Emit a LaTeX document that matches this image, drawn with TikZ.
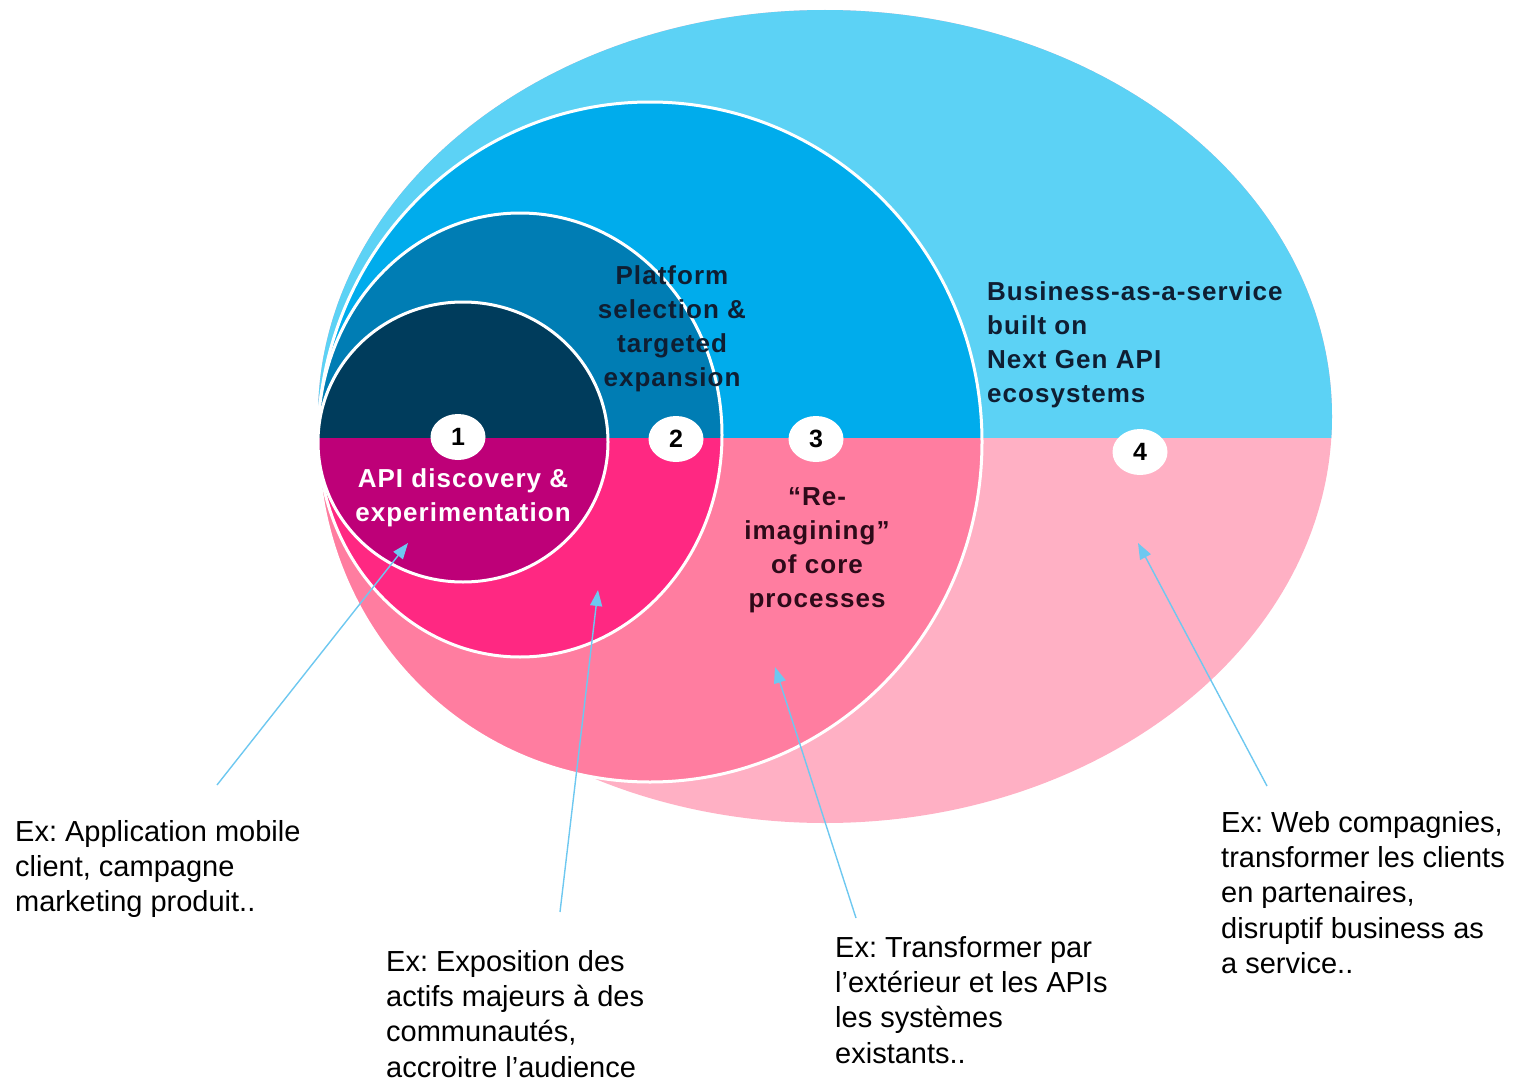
\documentclass[tikz,border=0pt]{standalone}
\usepackage{fontspec}
\setmainfont{Liberation Sans}
\newfontfamily\lblfont[LetterSpace=4]{Liberation Sans}
\usetikzlibrary{arrows.meta,shapes.geometric}
\frenchspacing
\definecolor{cAt}{RGB}{0,60,92}
\definecolor{cAb}{RGB}{190,0,120}
\definecolor{cBt}{RGB}{0,125,180}
\definecolor{cBb}{RGB}{255,40,130}
\definecolor{cCt}{RGB}{0,172,236}
\definecolor{cCb}{RGB}{255,125,160}
\definecolor{cDt}{RGB}{92,210,245}
\definecolor{cDb}{RGB}{255,176,196}
\definecolor{arrowblue}{RGB}{110,200,240}
\definecolor{darktxt}{RGB}{15,30,50}
\definecolor{darkpink}{RGB}{45,10,25}
\tikzset{
  ring/.style={draw=white,line width=3pt},
  numdot/.style={ellipse,fill=white,minimum width=55pt,minimum height=46pt,inner sep=0pt,
     font=\fontsize{25}{25}\selectfont\bfseries,text=black},
  boldlbl/.style={align=center,inner sep=0pt,font=\lblfont\fontsize{26}{34}\selectfont\bfseries},
  extxt/.style={align=left,anchor=north west,inner sep=0pt,font=\fontsize{29}{35.3}\selectfont,text=black},
  pointer/.style={arrowblue,line width=1.4pt,-{Triangle[length=16pt,width=12pt]}}
}
\begin{document}
\begin{tikzpicture}[x=1pt,y=-1pt]
\useasboundingbox (0,0) rectangle (1513,1081);
% ring 4
\fill[cDb] (825,416.5) ellipse [x radius=507pt,y radius=406.5pt];
\begin{scope}
 \clip (825,416.5) ellipse [x radius=507pt,y radius=406.5pt];
 \fill[cDt] (0,0) rectangle (1513,438);
\end{scope}
% ring 3
\fill[cCb] (650,442) ellipse [x radius=332pt,y radius=340pt];
\begin{scope}
 \clip (650,442) ellipse [x radius=332pt,y radius=340pt];
 \fill[cCt] (0,0) rectangle (1513,438);
\end{scope}
\draw[ring] (650,442) ellipse [x radius=332pt,y radius=340pt];
% ring 2
\fill[cBb] (520,435) ellipse [x radius=202pt,y radius=222pt];
\begin{scope}
 \clip (520,435) ellipse [x radius=202pt,y radius=222pt];
 \fill[cBt] (0,0) rectangle (1513,438);
\end{scope}
\draw[ring] (520,435) ellipse [x radius=202pt,y radius=222pt];
% ring 1
\fill[cAb] (463,442) ellipse [x radius=145pt,y radius=140pt];
\begin{scope}
 \clip (463,442) ellipse [x radius=145pt,y radius=140pt];
 \fill[cAt] (0,0) rectangle (1513,438);
\end{scope}
\draw[ring] (463,442) ellipse [x radius=145pt,y radius=140pt];

% labels in rings
\node[boldlbl,text=darktxt] (lbl2) at (672,329) {Platform\\selection \&\\targeted\\expansion};
\node[boldlbl,text=darktxt,align=left,anchor=west] (lbl4) at (987,345) {Business-as-a-service\\built on\\Next Gen API\\ecosystems};
\node[boldlbl,text=white] (lbl1) at (463,498) {API discovery \&\\experimentation};
\node[boldlbl,text=darkpink] (lbl3) at (817,550) {“Re-\\imagining”\\of core\\processes};

% number dots
\node[numdot] (n1) at (458,437) {1};
\node[numdot] (n2) at (676,439) {2};
\node[numdot] (n3) at (816,439) {3};
\node[numdot] (n4) at (1140,452) {4};

% example texts
\node[extxt] (ex1) at (15,820) {Ex: Application mobile\\client, campagne\\marketing produit..};
\node[extxt] (ex2) at (386,950) {Ex: Exposition des\\actifs majeurs à des\\communautés,\\accroitre l’audience};
\node[extxt] (ex3) at (835,936) {Ex: Transformer par\\l’extérieur et les APIs\\les systèmes\\existants..};
\node[extxt] (ex4) at (1221,811) {Ex: Web compagnies,\\transformer les clients\\en partenaires,\\disruptif business as\\a service..};

% pointers
\coordinate (t1) at (217,785); \coordinate (h1) at (408,543);
\coordinate (t2) at (560,912); \coordinate (h2) at (598,590);
\coordinate (t3) at (856,918); \coordinate (h3) at (775,667);
\coordinate (t4) at (1267,786); \coordinate (h4) at (1138,543);
\draw[pointer] (t1) -- (h1);
\draw[pointer] (t2) -- (h2);
\draw[pointer] (t3) -- (h3);
\draw[pointer] (t4) -- (h4);
\end{tikzpicture}
\end{document}
